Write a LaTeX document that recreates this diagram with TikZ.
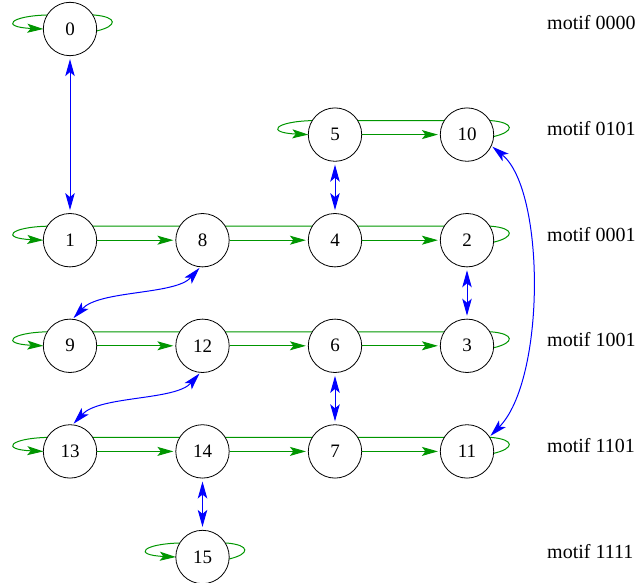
\documentclass[tikz,border=0pt]{standalone}
\usepackage{fontspec}
\setmainfont{Liberation Serif}
\usetikzlibrary{arrows.meta,calc,backgrounds}
\definecolor{loopgreen}{RGB}{0,150,0}
\definecolor{linkblue}{RGB}{0,0,255}

% one row of states: the cyclic shift loop from the last state back to the first
\newcommand\rowloop[2]{%
  \draw[gline,-{Stealth[length=16pt,width=9pt,inset=3.5pt]}]
    ($(#2)+(26.5,2)$) .. controls ($(#2)+(48,-3)$) and ($(#2)+(48,-12)$) ..
    ($(#2)+(24,-14)$) -- ($(#1)+(-23,-14)$)
    .. controls ($(#1)+(-60,-13)$) and ($(#1)+(-70,-2)$) .. ($(#1)+(-26.7,0)$);%
}

\begin{document}
\begin{tikzpicture}[x=1pt,y=-1pt,
  state/.style={circle,draw=black,line width=0.8pt,fill=white,
    minimum size=53.4pt,inner sep=0pt,font=\fontsize{19}{22}\selectfont},
  motif/.style={anchor=base west,inner sep=0pt,font=\fontsize{20}{24}\selectfont},
  gline/.style={draw=loopgreen,line width=1pt},
  gstep/.style={gline,-{Stealth[length=16pt,width=9pt,inset=3.5pt]},shorten >=2pt},
  blink/.style={draw=linkblue,line width=1pt,
    {Stealth[length=17pt,width=9.5pt,inset=4pt]}-{Stealth[length=17pt,width=9.5pt,inset=4pt]},
    shorten <=3pt,shorten >=3pt},
  bcurve/.style={draw=linkblue,line width=1pt,
    {Stealth[length=17pt,width=9.5pt,inset=4pt]}-{Stealth[length=17pt,width=9.5pt,inset=4pt]},
    shorten <=1pt,shorten >=1pt}
]
\useasboundingbox (0,0) rectangle (640,583);

% states
\node[state] (n0)  at (70,29)      {0};
\node[state] (n5)  at (335,134.6)  {5};
\node[state] (n10) at (467,134.6)  {10};
\node[state] (n1)  at (70,240.2)   {1};
\node[state] (n8)  at (202.5,240.2){8};
\node[state] (n4)  at (335,240.2)  {4};
\node[state] (n2)  at (467,240.2)  {2};
\node[state] (n9)  at (70,345.8)   {9};
\node[state] (n12) at (202.5,345.8){12};
\node[state] (n6)  at (335,345.8)  {6};
\node[state] (n3)  at (467,345.8)  {3};
\node[state] (n13) at (70,451.4)   {13};
\node[state] (n14) at (202.5,451.4){14};
\node[state] (n7)  at (335,451.4)  {7};
\node[state] (n11) at (467,451.4)  {11};
\node[state] (n15) at (202.5,557)  {15};

% motif labels
\node[motif] (m0) at (547,30)    {motif 0000};
\node[motif] (m1) at (547,135.6) {motif 0101};
\node[motif] (m2) at (547,241.2) {motif 0001};
\node[motif] (m3) at (547,346.8) {motif 1001};
\node[motif] (m4) at (547,452.4) {motif 1101};
\node[motif] (m5) at (547,558)   {motif 1111};

\begin{scope}[on background layer]
  % shift loops
  \rowloop{n0}{n0}
  \rowloop{n5}{n10}
  \rowloop{n1}{n2}
  \rowloop{n9}{n3}
  \rowloop{n13}{n11}
  \rowloop{n15}{n15}

  % shift steps within a row
  \draw[gstep] (n5) -- (n10);
  \draw[gstep] (n1) -- (n8);
  \draw[gstep] (n8) -- (n4);
  \draw[gstep] (n4) -- (n2);
  \draw[gstep] (n9) -- (n12);
  \draw[gstep] (n12) -- (n6);
  \draw[gstep] (n6) -- (n3);
  \draw[gstep] (n13) -- (n14);
  \draw[gstep] (n14) -- (n7);
  \draw[gstep] (n7) -- (n11);

  % links between rows
  \draw[blink] (n0) -- (n1);
  \draw[blink] (n5) -- (n4);
  \draw[blink] (n2) -- (n3);
  \draw[blink] (n6) -- (n7);
  \draw[blink] (n14) -- (n15);
  \draw[bcurve] (n9.84) .. controls +(27,-29) and +(-25,28) .. (n8.265);
  \draw[bcurve] (n13.84) .. controls +(27,-29) and +(-25,28) .. (n12.265);
  \draw[bcurve] (n11.33) .. controls +(56,-57) and +(54,44) .. (n10.-25);
\end{scope}
\end{tikzpicture}
\end{document}
